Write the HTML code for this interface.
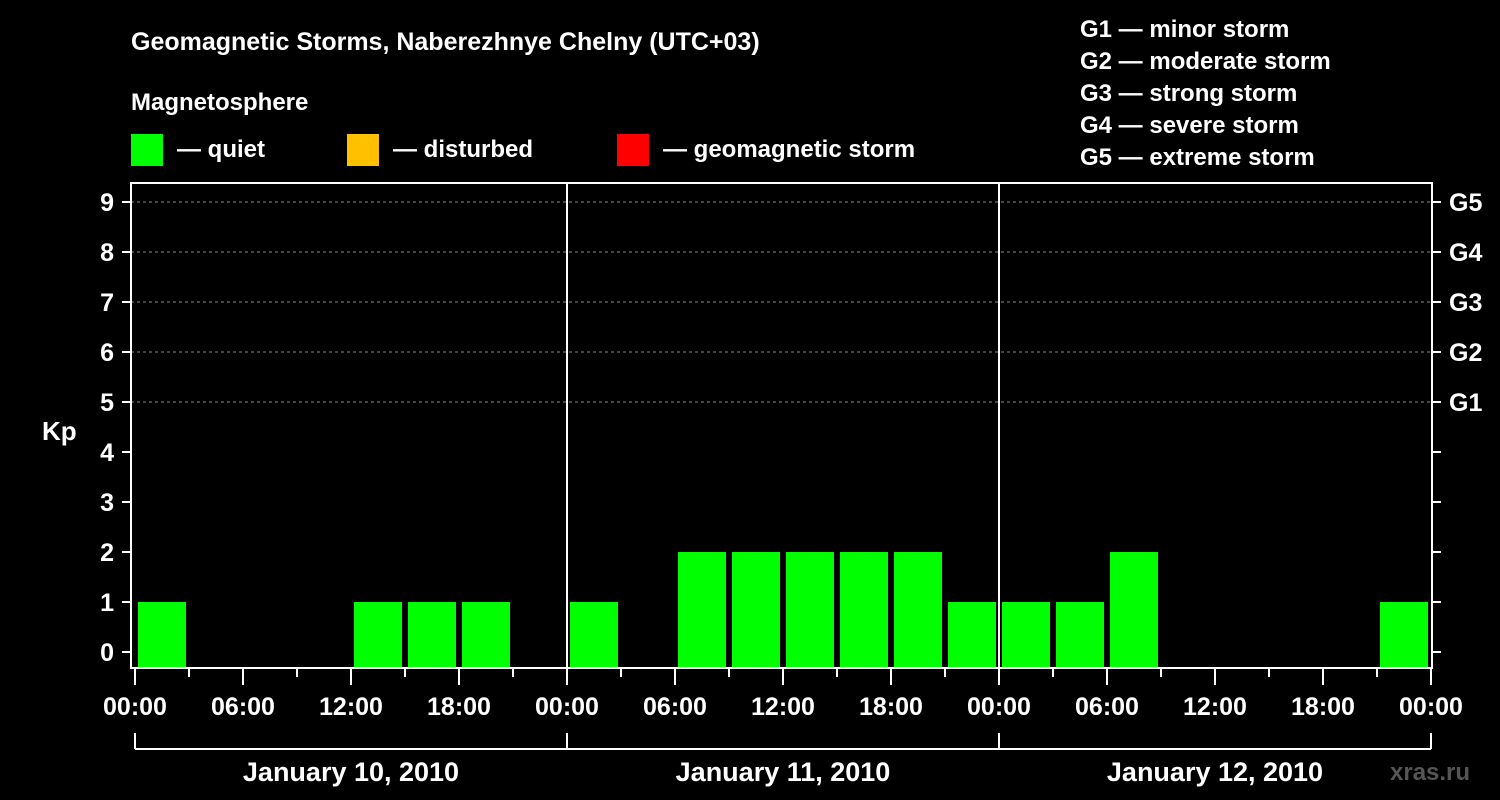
<!DOCTYPE html>
<html><head><meta charset="utf-8"><style>
body{margin:0;background:#000;}
svg{display:block;font-family:"Liberation Sans",Arial,sans-serif;font-weight:bold;}
</style></head><body>
<svg id="c" width="1500" height="800" viewBox="0 0 1500 800">
<rect width="1500" height="800" fill="#000"/>
<text x="131" y="50" fill="#fff" font-size="25">Geomagnetic Storms, Naberezhnye Chelny (UTC+03)</text>
<text x="131" y="110" fill="#fff" font-size="24">Magnetosphere</text>
<g><rect x="131" y="134" width="32" height="32" fill="#00ff00"/><text x="177" y="157" fill="#fff" font-size="24">— quiet</text></g>
<g><rect x="347" y="134" width="32" height="32" fill="#ffc000"/><text x="393" y="157" fill="#fff" font-size="24">— disturbed</text></g>
<g><rect x="617" y="134" width="32" height="32" fill="#ff0000"/><text x="663" y="157" fill="#fff" font-size="24">— geomagnetic storm</text></g>
<g fill="#fff" font-size="24">
<text x="1080" y="37">G1 — minor storm</text>
<text x="1080" y="69">G2 — moderate storm</text>
<text x="1080" y="101">G3 — strong storm</text>
<text x="1080" y="133">G4 — severe storm</text>
<text x="1080" y="165">G5 — extreme storm</text>
</g>
<text x="42" y="440" fill="#fff" font-size="26">Kp</text>
<g id="plot"></g>
<text x="1390" y="780" fill="#555" font-size="24">xras.ru</text>
</svg>
<script>
const days=["January 10, 2010","January 11, 2010","January 12, 2010"];
const kpValues=[1,0,0,0,1,1,1,0, 1,0,2,2,2,2,2,1, 1,1,2,0,0,0,0,1];
const yTicks=[0,1,2,3,4,5,6,7,8,9];
const gLabels=["G1","G2","G3","G4","G5"];
const hourLabels=["00:00","06:00","12:00","18:00"];
const NS="http://www.w3.org/2000/svg";
const g=document.getElementById('plot');
const L=131,R=1432,T=183,B=668,X0=135,DAY=432;
const y=v=>652-v*50;
const x=h=>X0+h*DAY/24;
function mk(t,a,p){const e=document.createElementNS(NS,t);for(const k in a)e.setAttribute(k,a[k]);(p||g).appendChild(e);return e;}
// gridlines
for(let v=5;v<=9;v++){const l=mk('line',{x1:L,x2:R,y1:y(v),y2:y(v),stroke:'#888','stroke-dasharray':'3,3','stroke-width':1});

}
// bars
kpValues.forEach((v,i)=>{if(v<=0)return;const col=v>=5?'#ff0000':(v>=4?'#ffc000':'#00ff00');
const r=mk('rect',{x:x(i*3)+3,y:y(v),width:48,height:B-y(v),fill:col});

});
// frame
const f=mk('rect',{x:L,y:T,width:R-L,height:B-T,fill:'none',stroke:'#fff','stroke-width':2});


for(let d=1;d<days.length;d++){const l=mk('line',{x1:x(d*24),x2:x(d*24),y1:T,y2:B,stroke:'#fff','stroke-width':2});

}
// y ticks
yTicks.forEach(v=>{mk('line',{x1:122,x2:L,y1:y(v),y2:y(v),stroke:'#fff','stroke-width':2});
mk('line',{x1:R,x2:1441,y1:y(v),y2:y(v),stroke:'#fff','stroke-width':2});
const t=mk('text',{x:114,y:y(v)+9,'text-anchor':'end',fill:'#fff','font-size':25});t.textContent=v;

});
gLabels.forEach((s,i)=>{const t=mk('text',{x:1449,y:y(5+i)+9,fill:'#fff','font-size':25});t.textContent=s;

});
// x ticks
for(let h=0;h<=72;h+=3){const major=h%6===0;mk('line',{x1:x(h),x2:x(h),y1:B,y2:major?685:677,stroke:'#fff','stroke-width':2});}
for(let h=0;h<=72;h+=6){const t=mk('text',{x:x(h),y:715,'text-anchor':'middle',fill:'#fff','font-size':25});t.textContent=hourLabels[(h/6)%4];

}
// day brackets
mk('line',{x1:x(0),x2:x(72),y1:749,y2:749,stroke:'#fff','stroke-width':2});
for(let d=0;d<=days.length;d++)mk('line',{x1:x(d*24),x2:x(d*24),y1:733,y2:749,stroke:'#fff','stroke-width':2});
days.forEach((s,d)=>{const t=mk('text',{x:x(d*24+12),y:781,'text-anchor':'middle',fill:'#fff','font-size':27});t.textContent=s;

});
</script>
</body></html>
